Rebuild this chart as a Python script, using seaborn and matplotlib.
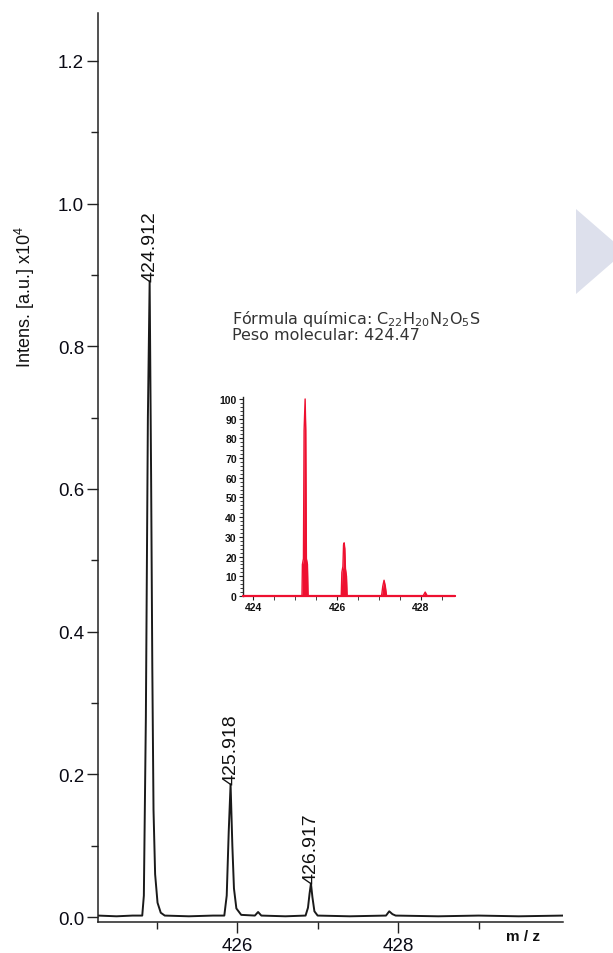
import matplotlib
matplotlib.use("Agg")
import matplotlib.pyplot as plt
import seaborn as sns
import numpy as np
import pandas as pd
from matplotlib.patches import Polygon
from matplotlib.ticker import FixedLocator, FormatStrFormatter

# ---------------- data ----------------
# main spectrum profile (m/z, intensity x10^4)
mz_main = [424.27, 424.5, 424.7, 424.82, 424.84, 424.865, 424.89, 424.912, 424.93,
           424.945, 424.96, 424.98, 425.01, 425.05, 425.1, 425.4, 425.7, 425.84,
           425.87, 425.895, 425.918, 425.94, 425.96, 425.99, 426.05, 426.22, 426.26,
           426.30, 426.6, 426.85, 426.88, 426.90, 426.917, 426.935, 426.96, 427.0,
           427.4, 427.85, 427.89, 427.93, 427.97, 428.5, 429.0, 429.5, 430.05]
int_main = [0.002, 0.001, 0.002, 0.002, 0.03, 0.28, 0.70, 0.891, 0.62,
            0.35, 0.15, 0.06, 0.02, 0.006, 0.002, 0.001, 0.002, 0.002,
            0.03, 0.12, 0.186, 0.10, 0.04, 0.012, 0.003, 0.002, 0.007,
            0.002, 0.001, 0.002, 0.013, 0.033, 0.047, 0.028, 0.008, 0.002,
            0.001, 0.002, 0.008, 0.004, 0.002, 0.001, 0.002, 0.001, 0.002]
peak_mz = [424.912, 425.918, 426.917]
peak_int = [0.891, 0.186, 0.047]
peak_labels = ["424.912", "425.918", "426.917"]

# theoretical isotope pattern (inset, relative %)
mz_iso = [423.76, 425.165, 425.175, 425.20, 425.215, 425.24, 425.255, 425.27, 425.295, 425.31,
          426.10, 426.115, 426.14, 426.155, 426.17, 426.185, 426.20, 426.225, 426.24,
          427.06, 427.09, 427.12, 427.15, 427.18,
          428.05, 428.10, 428.15, 428.81]
int_iso = [0, 0, 16, 19, 84, 100, 84, 19, 16, 0,
           0, 12, 15, 26, 27, 24, 14, 10, 0,
           0, 5, 8, 5, 0,
           0, 2, 0, 0]

y_major = [0.0, 0.2, 0.4, 0.6, 0.8, 1.0, 1.2]
y_minor = [0.1, 0.3, 0.5, 0.7, 0.9, 1.1]
x_major = [426, 428]
x_minor = [425, 427, 429]
iso_y_ticks = [0, 10, 20, 30, 40, 50, 60, 70, 80, 90, 100]
iso_x_ticks = [424, 426, 428]

formula_text = "Fórmula química: C$_{22}$H$_{20}$N$_2$O$_5$S"
weight_text = "Peso molecular: 424.47"
ylabel_text = "Intens. [a.u.] x10$^4$"
xlabel_text = "m / z"

# ---------------- style ----------------
sns.set_theme(style="ticks")
plt.rcParams['font.family'] = ['Liberation Sans', 'DejaVu Sans']
plt.rcParams['mathtext.fontset'] = 'custom'
plt.rcParams['mathtext.rm'] = 'Liberation Sans'
plt.rcParams['mathtext.it'] = 'Liberation Sans'
plt.rcParams['mathtext.bf'] = 'Liberation Sans:bold'

W, H = 613, 954
fig = plt.figure(figsize=(W / 100, H / 100), dpi=100)
fig.patch.set_facecolor('white')

def fx(px):
    return px / W

def fy(py):
    return (H - py) / H

# decorative triangle at right edge
tri = Polygon([(fx(576), fy(210)), (fx(576), fy(295)), (fx(625), fy(252.5))],
              closed=True, transform=fig.transFigure, facecolor='#dde0ec',
              edgecolor='none', zorder=0)
fig.patches.append(tri)

# ---------------- main axes ----------------
ax = fig.add_axes([fx(98), fy(923), fx(563) - fx(98), fy(14) - fy(923)])
ax.set_facecolor('none')
df_main = pd.DataFrame({"mz": mz_main, "intensity": int_main})
sns.lineplot(data=df_main, x="mz", y="intensity", ax=ax, color='#1a1a1a',
             linewidth=1.4, sort=False, estimator=None)
ax.set_xlim(424.27, 430.05)
ax.set_ylim(-0.007, 1.267)
ax.set_xlabel("")
ax.set_ylabel("")
for s in ['top', 'right']:
    ax.spines[s].set_visible(False)
for s in ['left', 'bottom']:
    ax.spines[s].set_color('#222222')
    ax.spines[s].set_linewidth(1.1)
ax.yaxis.set_major_locator(FixedLocator(y_major))
ax.yaxis.set_minor_locator(FixedLocator(y_minor))
ax.yaxis.set_major_formatter(FormatStrFormatter('%.1f'))
ax.xaxis.set_major_locator(FixedLocator(x_major))
ax.xaxis.set_minor_locator(FixedLocator(x_minor))
ax.tick_params(axis='both', which='major', length=8, width=1.0, color='#222222',
               labelsize=13.5, labelcolor='#0a0a14', direction='out')
ax.tick_params(axis='both', which='minor', length=5, width=1.0, color='#222222',
               direction='out')
ax.tick_params(axis='y', which='major', pad=2)
ax.tick_params(axis='x', which='major', pad=3)

for m, v, lab in zip(peak_mz, peak_int, peak_labels):
    ax.text(m, v + 0.001, lab, rotation=90, ha='center', va='bottom',
            fontsize=14, color='#111111')

fig.text(fx(25), fy(297), ylabel_text, rotation=90, ha='center', va='center',
         fontsize=13, color='#111111')
fig.text(fx(523), fy(937), xlabel_text, ha='center', va='center',
         fontsize=11, fontweight='bold', color='#111111')

# formula annotation (two lines in one text block)
fig.text(fx(232), fy(309), formula_text + "\n" + weight_text, ha='left', va='top',
         fontsize=11.5, color='#333333', family=['DejaVu Sans'],
         math_fontfamily='dejavusans', linespacing=0.95)

# ---------------- inset ----------------
axi = fig.add_axes([fx(243), fy(597), fx(455) - fx(243), fy(398) - fy(597)])
axi.set_facecolor('none')
df_iso = pd.DataFrame({"mz": mz_iso, "rel": int_iso})
axi.fill_between(df_iso["mz"], 0, df_iso["rel"], color='#ee1030', linewidth=0)
sns.lineplot(data=df_iso, x="mz", y="rel", ax=axi, color='#ee1030',
             linewidth=1.0, sort=False, estimator=None)
axi.axhline(0, color='#ee1030', linewidth=1.6, clip_on=False, zorder=5)
axi.set_xlim(423.76, 428.81)
axi.set_ylim(0, 101)
axi.set_xlabel("")
axi.set_ylabel("")
for s in ['top', 'right']:
    axi.spines[s].set_visible(False)
axi.spines['left'].set_color('#222222')
axi.spines['left'].set_linewidth(1.0)
axi.spines['bottom'].set_color('#ee1030')
axi.yaxis.set_major_locator(FixedLocator(iso_y_ticks))
axi.yaxis.set_minor_locator(FixedLocator([v for v in range(0, 101, 2) if v % 10]))
axi.xaxis.set_major_locator(FixedLocator(iso_x_ticks))
axi.xaxis.set_minor_locator(FixedLocator([424.5, 425, 425.5, 426.5, 427, 427.5, 428.5]))
axi.tick_params(axis='both', which='major', length=3, width=0.8, color='#222222',
                labelsize=7.5, labelcolor='#111111', pad=1.5)
axi.tick_params(axis='both', which='minor', length=2, width=0.6, color='#222222')
axi.tick_params(axis='x', which='both', length=3)
for lab in axi.get_xticklabels() + axi.get_yticklabels():
    lab.set_fontweight('bold')

fig.savefig("out.png", dpi=100)
